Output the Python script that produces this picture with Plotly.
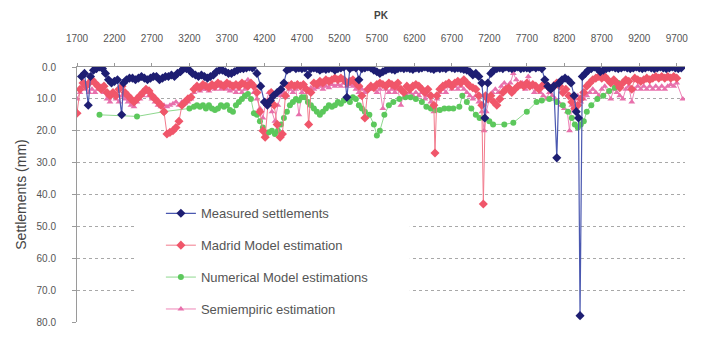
import plotly.graph_objects as go

# ---------------- data ----------------
x_ticks = [1700, 2200, 2700, 3200, 3700, 4200, 4700, 5200, 5700, 6200, 6700, 7200, 7700, 8200, 8700, 9200, 9700]
x_ticktext = [str(v) for v in x_ticks]
y_ticks = [0, 10, 20, 30, 40, 50, 60, 70, 80]
y_ticktext = ["0.0", "10.0", "20.0", "30.0", "40.0", "50.0", "60.0", "70.0", "80.0"]

measured_pk = [1760, 1800, 1850, 1880, 1920, 1960, 2000, 2040, 2080, 2120, 2160, 2200, 2240, 2296, 2320, 2360,
               2400, 2440, 2480, 2520, 2560, 2600, 2640, 2680, 2720, 2760, 2800, 2840, 2880, 2920, 2960, 3000,
               3040, 3080, 3120, 3160, 3200, 3240, 3280, 3320, 3360, 3400, 3440, 3480, 3520, 3560, 3600, 3640,
               3680, 3720, 3760, 3800, 3840, 3880, 3920, 3960, 4000, 4040, 4100, 4150, 4200, 4240, 4280, 4320,
               4370, 4420, 4460, 4500, 4540, 4580, 4620, 4660, 4700, 4740, 4780, 4820, 4860, 4900, 4940, 4980,
               5020, 5060, 5100, 5140, 5180, 5220, 5260, 5300, 5340, 5380, 5420, 5460, 5500, 5540, 5580, 5620,
               5660, 5700, 5740, 5780, 5820, 5860, 5900, 5940, 5980, 6020, 6060, 6100, 6140, 6180, 6220, 6260,
               6300, 6340, 6380, 6420, 6460, 6500, 6540, 6580, 6620, 6660, 6700, 6740, 6780, 6820, 6860, 6900,
               6940, 6980, 7020, 7060, 7100, 7140, 7180, 7220, 7260, 7300, 7340, 7380, 7420, 7460, 7500, 7540,
               7580, 7620, 7660, 7700, 7740, 7780, 7820, 7860, 7900, 7940, 7980, 8020, 8060, 8100, 8130, 8170,
               8210, 8250, 8290, 8330, 8360, 8390, 8410, 8440, 8480, 8520, 8560, 8600, 8640, 8680, 8720, 8760,
               8800, 8840, 8880, 8920, 8960, 9000, 9040, 9080, 9120, 9160, 9200, 9240, 9280, 9320, 9360, 9400,
               9440, 9480, 9520, 9560, 9600, 9640, 9680, 9720, 9760]
measured_val = [3, 2, 12, 3, 1, 0.5, 0, 0.5, 2, 4, 5, 4.5, 4, 15, 5, 4,
                3.5, 3.5, 4, 3.5, 3, 3.5, 4, 3.5, 3, 3, 4, 3.5, 3, 3, 2.5, 3,
                2, 1.5, 0.5, 0.5, 1, 2, 2.5, 3, 2.5, 3, 3.5, 3, 2.5, 1.5, 1, 1,
                1.5, 2, 2, 1.5, 1, 0.5, 0.5, 0.3, 0, 0.3, 2, 6, 11, 12, 10.5, 9,
                8, 7, 5, 1, 0.5, 0, 0.5, 0.3, 0.5, 0.3, 2.5, 0.5, 0.3, 0.5, 1, 0.5,
                0.8, 0.5, 0.3, 1, 0.5, 0.3, 0, 9.5, 0.5, 0, 0.3, 4, 0.5, 0.3, 0, 0.3,
                1, 1.5, 2, 1.5, 1, 0.5, 0.8, 1, 0.5, 0.3, 0.5, 0.3, 0.5, 0.8, 0.3, 0.5,
                0.3, 0, 0.3, 0.5, 0.8, 0.3, 0.5, 0.3, 0.5, 0, 0.3, 0.5, 0.3, 0.5, 0.8, 1,
                1.5, 2.5, 2, 3, 5, 16, 5, 2, 1, 0.5, 0.3, 0.5, 0, 0.3, 0.5, 0.3,
                0, 0.5, 0.3, 0.3, 0.5, 0, 0.3, 0, 0.5, 4, 6, 7, 6, 28.5, 5, 4,
                3.5, 4, 5, 9, 14, 16, 78, 3, 2, 1, 0.5, 0, 0.5, 1.5, 1, 0.5,
                0.3, 0, 0.3, 0.5, 0.3, 0, 0.3, 0.5, 0.3, 0, 0.3, 0.5, 0.3, 0, 0.3, 0.5,
                0.3, 0, 0.3, 0.5, 0.3, 0, 0.3, 0.5, 0.3]

madrid_pk = [1700, 1740, 1780, 1820, 1860, 1900, 1940, 1980, 2020, 2060, 2100, 2140, 2180, 2220, 2260, 2300,
             2340, 2380, 2420, 2460, 2500, 2540, 2580, 2620, 2660, 2700, 2740, 2780, 2820, 2860, 2900, 2940,
             2980, 3020, 3060, 3100, 3140, 3180, 3220, 3260, 3300, 3340, 3380, 3420, 3460, 3500, 3540, 3580,
             3620, 3660, 3700, 3740, 3780, 3820, 3860, 3900, 3940, 3980, 4020, 4060, 4100, 4140, 4180, 4210,
             4250, 4290, 4330, 4370, 4410, 4440, 4480, 4520, 4560, 4600, 4640, 4680, 4720, 4760, 4790, 4820,
             4860, 4900, 4940, 4980, 5020, 5060, 5100, 5140, 5180, 5220, 5260, 5300, 5340, 5380, 5420, 5460,
             5500, 5540, 5580, 5620, 5660, 5700, 5740, 5780, 5820, 5860, 5900, 5940, 5980, 6020, 6060, 6100,
             6140, 6180, 6220, 6260, 6300, 6340, 6380, 6420, 6460, 6475, 6500, 6540, 6580, 6620, 6660, 6700,
             6740, 6780, 6820, 6860, 6900, 6940, 6980, 7020, 7060, 7100, 7120, 7150, 7180, 7220, 7260, 7300,
             7340, 7380, 7420, 7460, 7500, 7540, 7580, 7620, 7660, 7700, 7740, 7780, 7820, 7860, 7900, 7940,
             7980, 8020, 8060, 8100, 8140, 8180, 8220, 8260, 8300, 8340, 8380, 8420, 8460, 8500, 8540, 8580,
             8620, 8660, 8700, 8740, 8780, 8820, 8860, 8900, 8940, 8980, 9020, 9060, 9100, 9140, 9180, 9220,
             9260, 9300, 9340, 9380, 9420, 9460, 9500, 9540, 9580, 9620, 9660, 9700]
madrid_val = [14.5, 7, 5, 6, 5, 4, 5, 6, 7, 6, 8, 9, 8, 9, 7, 6,
              8, 9, 10, 11, 10, 9, 8, 7, 7.5, 9, 10, 11, 12, 14, 21, 20.5,
              20, 19, 17, 12, 11, 10, 9.5, 7, 6, 6.5, 5.5, 6, 6.5, 5.5, 6, 5,
              5.5, 6, 5, 5.5, 6, 5.5, 6, 5, 5.5, 6, 5, 6, 8, 14, 20, 22,
              11, 8, 12, 18, 22, 21, 9, 6, 5.5, 6, 5.5, 6, 5.5, 7, 18, 8,
              5, 5.5, 4.5, 5, 4, 4.5, 4, 3.5, 4, 3.5, 4, 5, 4.5, 4, 5, 6,
              9, 16, 7, 6, 6.5, 5.5, 5, 5.5, 6, 5, 5.5, 6, 5, 7, 8, 6,
              7, 6, 5.5, 6, 7, 8, 7, 9, 12, 27, 9, 7, 6, 5.5, 5, 6,
              5, 4.5, 5, 4, 5, 6, 6.5, 7, 9, 12, 43, 9, 10, 9, 11, 12,
              10, 8, 7, 6.5, 8, 7, 6, 5.5, 6, 5, 6, 5.5, 6, 7, 6, 5.5,
              6, 7, 6, 5, 6, 8, 7, 9, 11, 13, 12, 10, 8, 6, 5, 4,
              3.5, 3, 3.5, 3, 4, 5, 4, 5, 6.5, 5, 4, 4.5, 7, 3.5, 4, 4.5,
              4, 3.5, 4, 3.5, 3, 3.5, 3, 3.5, 3, 3.5, 3, 3.5]

numerical_pk = [2000, 2500, 2860, 3200, 3260, 3300, 3340, 3380, 3420, 3460, 3500, 3540, 3580, 3620, 3660, 3700,
                3740, 3780, 3820, 3860, 3900, 3940, 3980, 4020, 4060, 4100, 4140, 4180, 4220, 4260, 4300, 4340,
                4380, 4420, 4460, 4500, 4540, 4580, 4620, 4660, 4700, 4740, 4780, 4820, 4860, 4900, 4940, 4980,
                5020, 5060, 5100, 5140, 5180, 5220, 5260, 5300, 5340, 5380, 5420, 5460, 5500, 5540, 5600, 5660,
                5700, 5740, 5800, 5860, 5920, 6000, 6080, 6150, 6220, 6300, 6360, 6420, 6480, 6540, 6600, 6660,
                6720, 6800, 6840, 6900, 6960, 7020, 7070, 7130, 7200, 7250, 7400, 7520, 7700, 7830, 7900, 8000,
                8100, 8180, 8250, 8300, 8340, 8380, 8420, 8460, 8500, 8560, 8640, 8720, 8800, 8873, 8920]
numerical_val = [15, 15.5, 14, 13, 12.5, 12, 12.5, 12, 13, 12, 13, 13.5, 13, 12, 12.5, 12,
                 13.5, 14, 12, 11, 10, 9, 8.5, 10, 14.5, 15, 17, 19, 21, 20.5, 20, 21,
                 20, 18, 16, 14, 12, 11, 10, 10.5, 9.5, 9.5, 11, 12, 13, 14, 15, 14,
                 13, 12, 12.5, 12, 11, 11.5, 10.5, 10, 11, 9.5, 10, 12, 13, 14, 15, 18,
                 21.5, 20, 15, 12, 11, 10, 9.5, 9.5, 10, 11, 12.5, 13, 13.5, 13.5, 13, 13,
                 13, 12.5, 9, 11, 13, 15, 16, 16, 17, 18, 18, 17.5, 14, 11, 10.5, 10,
                 11, 12, 14, 16, 18, 19, 18, 17, 14, 12, 10, 9, 7.5, 6.5, 5]

semi_pk = [1700, 1740, 1780, 1820, 1860, 1900, 1940, 1980, 2020, 2060, 2100, 2140, 2180, 2220, 2260, 2300,
           2340, 2380, 2420, 2460, 2500, 2540, 2580, 2620, 2660, 2700, 2740, 2780, 2820, 2860, 2900, 2940,
           2980, 3020, 3060, 3100, 3140, 3180, 3220, 3260, 3300, 3340, 3380, 3420, 3460, 3500, 3540, 3580,
           3620, 3660, 3700, 3740, 3780, 3820, 3860, 3900, 3940, 3980, 4020, 4060, 4100, 4140, 4180, 4220,
           4260, 4300, 4340, 4380, 4420, 4460, 4500, 4540, 4580, 4620, 4660, 4700, 4740, 4780, 4820, 4860,
           4900, 4940, 4980, 5020, 5060, 5100, 5140, 5180, 5220, 5260, 5300, 5340, 5380, 5420, 5460, 5500,
           5540, 5580, 5620, 5660, 5700, 5740, 5780, 5820, 5860, 5900, 5940, 5980, 6020, 6060, 6100, 6140,
           6180, 6220, 6260, 6300, 6340, 6380, 6420, 6460, 6500, 6540, 6580, 6620, 6660, 6700, 6740, 6780,
           6820, 6860, 6900, 6940, 6980, 7020, 7060, 7100, 7130, 7160, 7200, 7240, 7280, 7320, 7360, 7400,
           7440, 7480, 7520, 7560, 7600, 7640, 7680, 7720, 7760, 7800, 7840, 7880, 7920, 7960, 8000, 8040,
           8080, 8120, 8160, 8200, 8240, 8270, 8300, 8340, 8380, 8420, 8460, 8500, 8540, 8580, 8620, 8660,
           8700, 8740, 8780, 8820, 8860, 8900, 8940, 8980, 9020, 9060, 9100, 9140, 9180, 9220, 9260, 9300,
           9340, 9380, 9420, 9460, 9500, 9540, 9580, 9620, 9660, 9700, 9780]
semi_val = [10, 8, 6, 7, 8, 7, 8, 7, 6, 8, 10, 11, 9, 10, 11, 9,
            10, 11, 12, 12.5, 11, 10, 9, 8, 9, 10, 11, 12, 12.5, 12, 12.5, 12,
            11.5, 11, 12, 11, 11.5, 11, 10, 8, 7, 7.5, 7, 7, 7.5, 6.5, 7, 6,
            7, 6.5, 7, 7.5, 7, 8, 7, 8, 7, 4, 5, 8, 10, 13, 16, 11,
            8, 14, 17, 12, 9, 8, 9, 7, 8, 7, 15, 8, 7, 8, 6.5, 7,
            6.5, 6, 7, 6, 6.5, 5.5, 6, 5.5, 6, 5, 6, 5.5, 6, 7, 8, 7,
            8, 7, 6, 7, 8, 7, 13, 7, 8, 7, 8, 7, 12, 8, 9, 8,
            9, 8, 9, 8, 10, 9, 11, 14, 10, 8, 7, 8, 6, 7, 6, 7,
            6, 7, 8, 9, 10, 9, 11, 14, 20, 14, 10, 8, 7, 8, 6, 5,
            6, 5, 2, 4, 6, 5, 7, 3, 6, 8, 7, 8, 9, 10, 8, 9,
            10, 11, 12, 13, 14, 20, 12, 10, 9, 11, 10, 9, 8, 7, 8, 9,
            7, 6, 8, 10, 7, 8, 9, 10, 7, 6, 11, 7, 6, 7, 6, 7,
            6, 7, 6, 7, 6, 7, 6, 5.5, 6, 5, 10]

series_names = ["Measured settlements", "Madrid Model estimation",
                "Numerical Model estimations", "Semiempiric estimation"]

# ---------------- figure ----------------
fig = go.Figure()

# draw order: Semiempiric, Numerical, Madrid, Measured (measured on top); legend ordered by legendrank
fig.add_trace(go.Scatter(
    x=semi_pk, y=semi_val, name=series_names[3], mode="lines+markers", legendgroup="d", legendrank=4,
    line=dict(color="#EE86B8", width=1),
    marker=dict(symbol="triangle-up", size=6, color="#E870AC")))
fig.add_trace(go.Scatter(
    x=numerical_pk, y=numerical_val, name=series_names[2], mode="lines+markers", legendgroup="c", legendrank=3,
    line=dict(color="#8ED88E", width=1),
    marker=dict(symbol="circle", size=6, color="#5CC85C")))
fig.add_trace(go.Scatter(
    x=madrid_pk, y=madrid_val, name=series_names[1], mode="lines+markers", legendgroup="b", legendrank=2,
    line=dict(color="#F27A8C", width=1),
    marker=dict(symbol="diamond", size=7, color="#F0566A")))
fig.add_trace(go.Scatter(
    x=measured_pk, y=measured_val, name=series_names[0], mode="lines+markers", legendgroup="a", legendrank=1,
    line=dict(color="#4A58B0", width=1.2),
    marker=dict(symbol="diamond", size=7, color="#1E1E72")))

# white box behind the legend (covers the gridlines like the original)
fig.add_shape(type="rect", xref="x", yref="y", x0=2480, x1=6140, y0=43.5, y1=81,
              fillcolor="white", line=dict(width=0), layer="above")

axis_font = dict(family="Liberation Sans, Arial, sans-serif", size=10, color="#555555")

# the page body adds an 8px offset, so the figure is 8px smaller than the window
fig.update_layout(
    width=698, height=329,
    margin=dict(l=69, r=21, t=59, b=15, autoexpand=False),
    paper_bgcolor="white", plot_bgcolor="white",
    font=axis_font,
    showlegend=True,
    legend=dict(x=0.138, y=0.485, xanchor="left", yanchor="top",
                traceorder="grouped", tracegroupgap=12,
                bgcolor="rgba(0,0,0,0)", font=dict(size=13, color="#555555"),
                itemwidth=30),
    xaxis=dict(side="top", range=[1700, 9810], tickmode="array",
               tickvals=x_ticks, ticktext=x_ticktext, automargin=False,
               showgrid=False, zeroline=False,
               showline=True, linecolor="#9A9A9A", linewidth=1,
               ticks="outside", ticklen=3, tickcolor="#9A9A9A",
               ticklabelstandoff=17,
               tickfont=dict(size=10, color="#555555"),
               title=dict(text="<b>PK</b>", font=dict(size=10, color="#444444"), standoff=11)),
    yaxis=dict(range=[80, 0], tickmode="array", tickvals=y_ticks, ticktext=y_ticktext,
               automargin=False,
               showgrid=True, gridcolor="#A8A8A8", gridwidth=1, griddash="3px,3px",
               zeroline=False, showline=True, linecolor="#9A9A9A", linewidth=1,
               ticks="outside", ticklen=4, tickcolor="#9A9A9A",
               ticklabelstandoff=14,
               tickfont=dict(size=10, color="#555555"),
               title=dict(text="Settlements (mm)", font=dict(size=14, color="#444444"), standoff=6)),
)

fig.write_html("out.html")
